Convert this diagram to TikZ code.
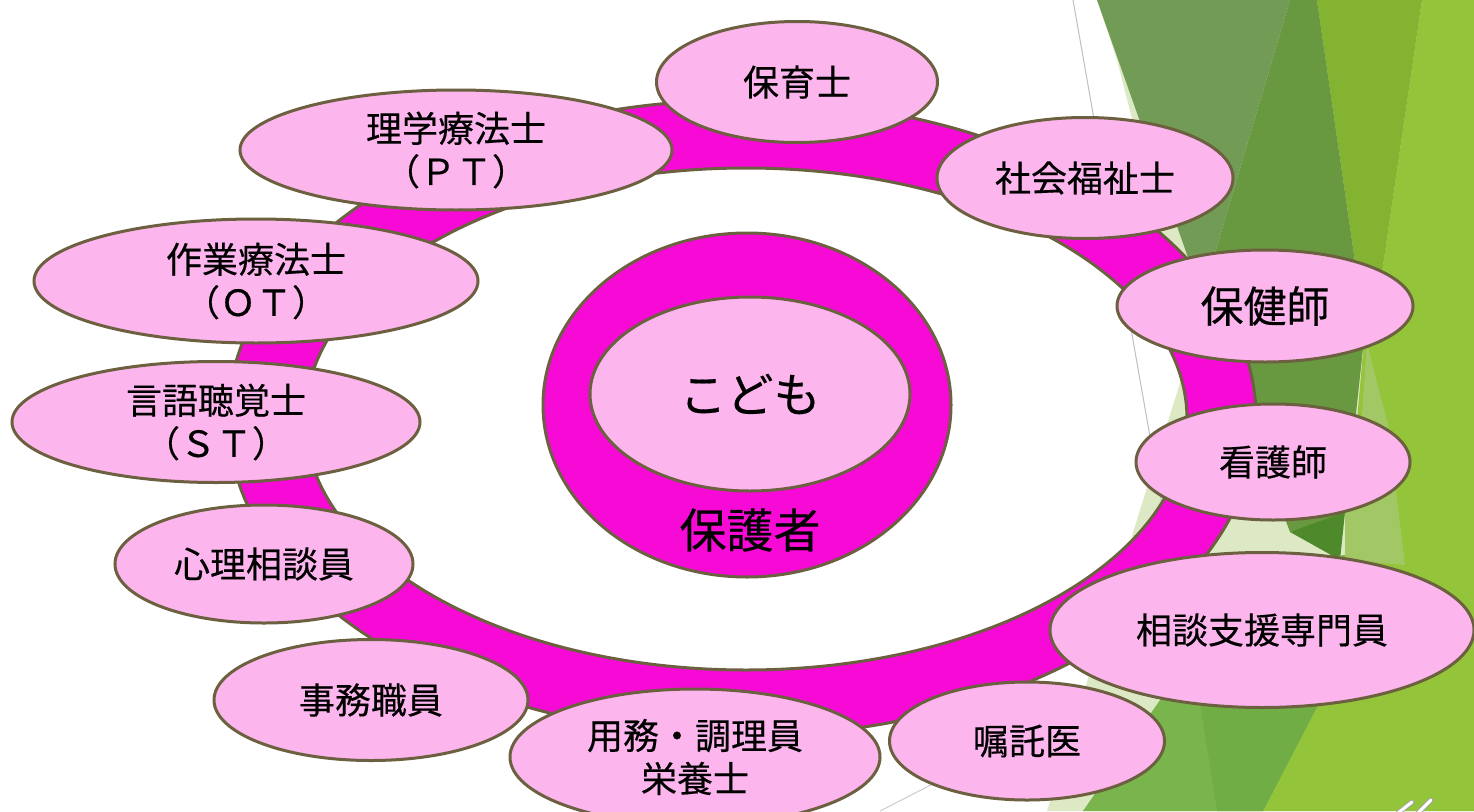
\documentclass[tikz,border=0pt]{standalone}
\usepackage{fontspec}
\newfontfamily\jp[FakeBold=0.35]{Noto Sans CJK JP}
\usetikzlibrary{shapes.geometric}
\definecolor{pinkfill}{RGB}{252,182,237}
\definecolor{magentafill}{RGB}{247,10,214}
\definecolor{edgebrown}{RGB}{108,96,64}
\definecolor{paleg}{RGB}{221,233,197}
\definecolor{greyg}{RGB}{114,155,85}
\definecolor{darkg}{RGB}{104,152,63}
\definecolor{darkerg}{RGB}{78,138,43}
\definecolor{oliveg}{RGB}{132,179,49}
\definecolor{brightg}{RGB}{147,196,58}
\definecolor{lightw}{RGB}{162,200,101}
\definecolor{medg}{RGB}{121,181,76}
\definecolor{medgb}{RGB}{112,174,69}
\begin{document}
\begin{tikzpicture}[x=1pt,y=-1pt,
  role/.style={ellipse, draw=edgebrown, line width=3pt, fill=pinkfill, inner sep=0pt, align=center, text=black, font=\jp\fontsize{36}{43}\selectfont},
  outline/.style={draw=edgebrown, line width=3pt}
]
\useasboundingbox (0,0) rectangle (1474,811);
\fill[white] (0,0) rectangle (1474,811);
% background facets
\fill[paleg] (1117,60) -- (1163,240) -- (1192,345) -- (1140,510) -- (1047,811) -- (1474,811) -- (1474,0) -- (1097,0) -- cycle;
\fill[brightg] (1422,0) -- (1474,0) -- (1474,811) -- (1263,811) -- (1317,707) -- (1345,555) -- (1365,330) -- (1378,300) -- cycle;
\fill[oliveg] (1317,0) -- (1422,0) -- (1378,300) -- (1365,330) -- cycle;
\fill[darkg] (1290,0) -- (1317,0) -- (1365,330) -- (1345,515) -- (1290,532) -- (1202,297) -- cycle;
\fill[darkerg] (1290,532) -- (1345,512) -- (1340,560) -- cycle;
\fill[lightw] (1367,343) -- (1388,425) -- (1405,565) -- (1345,560) -- (1345,515) -- (1362,415) -- cycle;
\fill[greyg] (1097,0) -- (1290,0) -- (1202,297) -- cycle;
\fill[medg] (1160,700) -- (1245,590) -- (1300,560) -- (1345,555) -- (1317,707) -- (1263,811) -- (1083,811) -- cycle;
\fill[medgb] (1198,690) -- (1330,640) -- (1317,707) -- (1263,811) -- (1217,811) -- cycle;
\draw[black!25, line width=1pt] (1073,0) -- (1170,550);
\draw[black!20, line width=1pt] (880,811) -- (960,770);
\draw[black!35, line width=5pt, line cap=round] (1398,813) -- (1412,802) (1418,813) -- (1431,800);
\draw[white, line width=3pt, line cap=round] (1398,813) -- (1412,802) (1418,813) -- (1431,800);
% ring
\fill[magentafill, even odd rule] (742,418) ellipse [x radius=514pt, y radius=318pt] (746,419) ellipse [x radius=441pt, y radius=251pt];
\draw[outline] (742,418) ellipse [x radius=514pt, y radius=318pt];
\draw[outline] (746,419) ellipse [x radius=441pt, y radius=251pt];
% centre
\node[ellipse, draw=edgebrown, line width=3pt, fill=magentafill, inner sep=0pt, minimum width=408pt, minimum height=344pt] (hogosha) at (747,405) {};
\node[role, minimum width=320pt, minimum height=194pt, font=\jp\fontsize{47}{50}\selectfont] (kodomo) at (750,394) {こども};
\node[font=\jp\fontsize{47}{50}\selectfont, inner sep=0pt] (hogoshaText) at (750,530) {保護者};
% roles
\node[role, minimum width=281pt, minimum height=121pt] (hoikushi) at (797,82) {保育士};
\node[role, minimum width=432pt, minimum height=120pt] (pt) at (456,150) {理学療法士\\（ＰＴ）};
\node[role, minimum width=296pt, minimum height=121pt] (shakai) at (1085,178) {社会福祉士};
\node[role, minimum width=444pt, minimum height=124pt] (ot) at (256,281) {作業療法士\\（ＯＴ）};
\node[role, minimum width=296pt, minimum height=112pt, font=\jp\fontsize{43}{48}\selectfont] (hokenshi) at (1265,306) {保健師};
\node[role, minimum width=408pt, minimum height=121pt] (st) at (216,422) {言語聴覚士\\（ＳＴ）};
\node[role, minimum width=274pt, minimum height=116pt] (kango) at (1273,462) {看護師};
\node[role, minimum width=298pt, minimum height=118pt] (shinri) at (264,564) {心理相談員};
\node[role, minimum width=424pt, minimum height=155pt] (soudan) at (1262,630) {相談支援専門員};
\node[role, minimum width=314pt, minimum height=121pt] (jimu) at (371,700) {事務職員};
\node[role, minimum width=370pt, minimum height=136pt] (youmu) at (695,757) {用務・調理員\\栄養士};
\node[role, minimum width=275pt, minimum height=118pt] (shokutaku) at (1027,741) {嘱託医};
\end{tikzpicture}
\end{document}
